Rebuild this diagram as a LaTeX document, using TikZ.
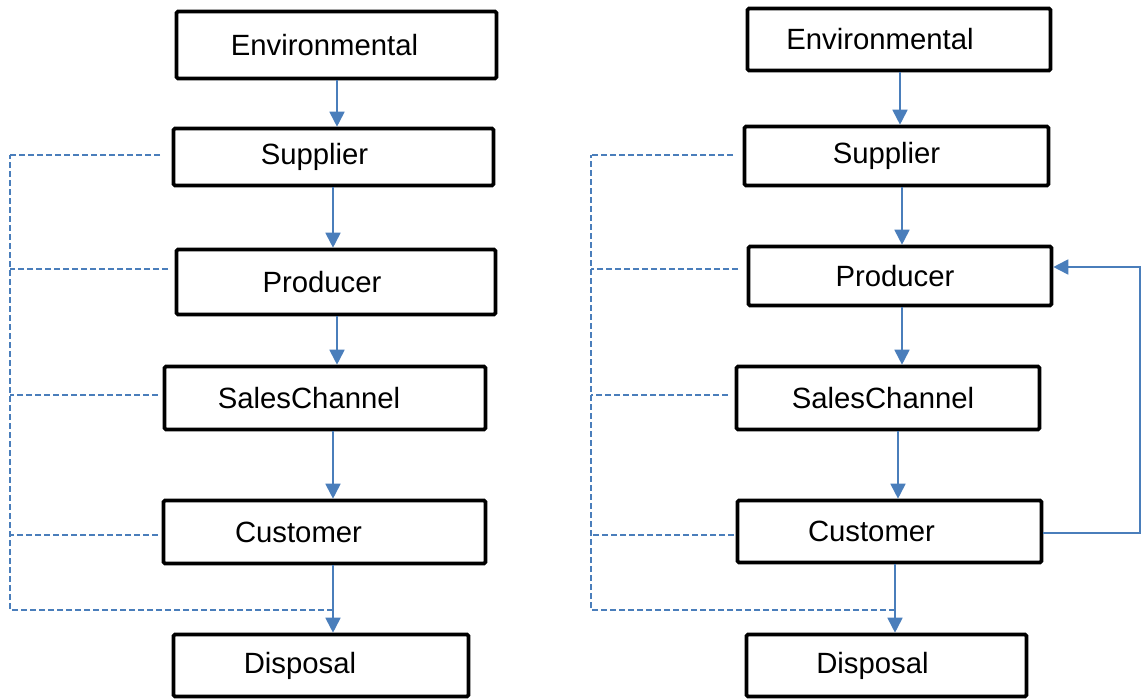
\documentclass[tikz,border=0pt]{standalone}
\usepackage{fontspec}
\setmainfont{Liberation Sans}
\usetikzlibrary{arrows.meta,positioning,calc}
\definecolor{lnk}{HTML}{4A7EBB}
\tikzset{
  >={Triangle[length=15pt,width=15pt]},
  blk/.style={draw=black,line width=3.6pt,rounded corners=1.5pt,inner sep=0pt,fill=white,font=\fontsize{29.3}{34}\selectfont},
  lft/.style={execute at begin node={\hspace*{-#1pt}}},
  arr/.style={->,draw=lnk,line width=1.8pt},
  dsh/.style={draw=lnk,line width=1.6pt,dash pattern=on 6pt off 3pt},
}

\begin{document}
\begin{tikzpicture}[x=1pt,y=-1pt]
\useasboundingbox (0,0) rectangle (1144,700);
% left chain
\node[blk,lft=24,minimum width=320pt,minimum height=67pt] (envL) at (336.5,45) {Environmental};
\node[blk,lft=38,minimum width=320pt,minimum height=57pt] (supL) at (333.5,157) {Supplier};
\node[blk,lft=28,minimum width=319pt,minimum height=65pt] (proL) at (336,282) {Producer};
\node[blk,lft=32,minimum width=321pt,minimum height=63pt] (salL) at (325,398) {SalesChannel};
\node[blk,lft=52,minimum width=322pt,minimum height=63pt] (cusL) at (324.5,532) {Customer};
\node[blk,lft=42,minimum width=295pt,minimum height=62pt] (disL) at (321,665.5) {Disposal};
% right chain
\node[blk,lft=38,minimum width=303pt,minimum height=62pt] (envR) at (899,39.5) {Environmental};
\node[blk,lft=20,minimum width=304pt,minimum height=59pt] (supR) at (896.5,156) {Supplier};
\node[blk,lft=10,minimum width=303pt,minimum height=59pt] (proR) at (900,276) {Producer};
\node[blk,lft=10,minimum width=303pt,minimum height=63pt] (salR) at (888,398) {SalesChannel};
\node[blk,lft=36,minimum width=304pt,minimum height=62pt] (cusR) at (889.5,531.5) {Customer};
\node[blk,lft=28,minimum width=280pt,minimum height=62pt] (disR) at (886.5,665.5) {Disposal};

% flow arrows
\coordinate (aL) at ([xshift=8.5pt]cusL.south);
\coordinate (aR) at ([xshift=5.5pt]cusR.south);
\draw[arr] ([xshift=0.5pt]envL.south) -- ([xshift=0.5pt]envL.south |- supL.north);
\draw[arr] ([xshift=-0.5pt]supL.south) -- ([xshift=-0.5pt]supL.south |- proL.north);
\draw[arr] ([xshift=1pt]proL.south) -- ([xshift=1pt]proL.south |- salL.north);
\draw[arr] ([xshift=8pt]salL.south) -- ([xshift=8pt]salL.south |- cusL.north);
\draw[arr] (aL) -- (aL |- disL.north);
\draw[arr] ([xshift=1pt]envR.south) -- ([xshift=1pt]envR.south |- supR.north);
\draw[arr] ([xshift=5.5pt]supR.south) -- ([xshift=5.5pt]supR.south |- proR.north);
\draw[arr] ([xshift=2pt]proR.south) -- ([xshift=2pt]proR.south |- salR.north);
\draw[arr] ([xshift=10pt]salR.south) -- ([xshift=10pt]salR.south |- cusR.north);
\draw[arr] (aR) -- (aR |- disR.north);

% feedback loop
\coordinate (fb) at (1140,0);
\coordinate (fbs) at ([yshift=-1.5pt]cusR.east);
\draw[arr] (fbs) -- (fbs -| fb) |- ([yshift=9pt]proR.east);

% dashed buses
\coordinate (busL) at (10,155);
\coordinate (endL) at (10,610);
\coordinate (busR) at (591,155);
\coordinate (endR) at (591,610);
\draw[dsh] (aL |- endL) -- (endL) -- (busL);
\draw[dsh] (aR |- endR) -- (endR) -- (busR);
\foreach \n/\dx/\dy/\b in {supL/-11.5/2/busL, proL/-6.5/13/busL, salL/-4.5/3/busL, cusL/-3.5/-3/busL,
                         supR/-9.5/1/busR, proR/-8.5/7/busR, salR/-6.5/3/busR, cusR/-1.5/-3.5/busR}{
  \coordinate (t) at ([xshift=\dx pt,yshift=\dy pt]\n.west);
  \draw[dsh] (t) -- (t -| \b);
}
\end{tikzpicture}
\end{document}
